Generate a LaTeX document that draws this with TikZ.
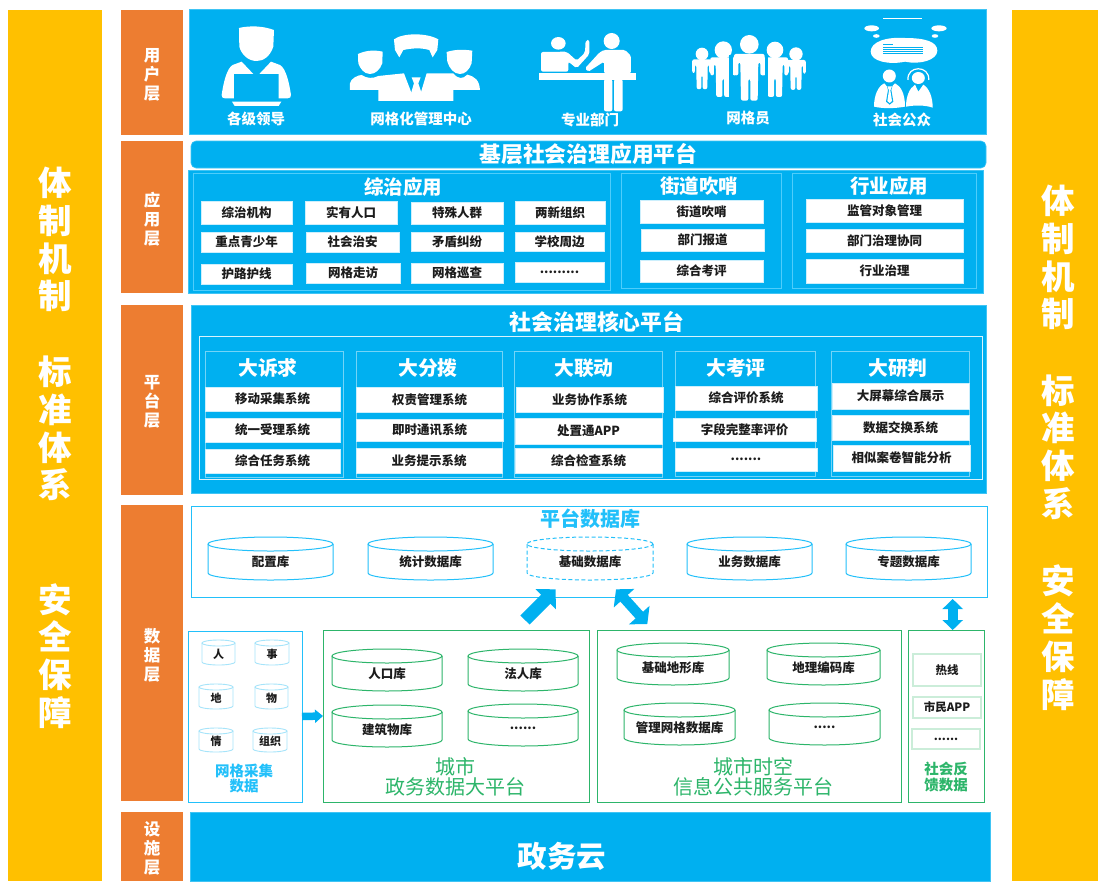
\documentclass[tikz,border=0pt]{standalone}
\usepackage{fontspec}
\setmainfont{Noto Sans CJK SC}
\usetikzlibrary{arrows.meta}
\definecolor{cyb}{HTML}{00B0F0}
\definecolor{org}{HTML}{ED7D31}
\definecolor{yel}{HTML}{FFC000}
\definecolor{lbl}{HTML}{22C0FA}
\definecolor{pale}{HTML}{A6E4FA}
\definecolor{grn}{HTML}{2DB56A}
\definecolor{pgrn}{HTML}{CBEDD9}
\definecolor{ink}{HTML}{1C1C1C}
\newcommand{\fz}[1]{\fontsize{#1}{#1}\selectfont}
\tikzset{
  every node/.style={inner sep=0pt,outer sep=0pt},
  sidetext/.style={text=white,align=center,font=\fontsize{33.5}{37.8}\selectfont\bfseries},
  layer/.style={fill=org},
  layertext/.style={text=white,align=center,yshift=-2.2pt,font=\fontsize{16.5}{19}\selectfont\bfseries},
  panel/.style={fill=cyb,draw=cyb!75!white,line width=.6pt},
  thinbox/.style={draw=lbl!80!white,line width=.7pt},
  paleline/.style={draw=white!85!cyb,line width=.9pt},
  subbox/.style={draw=white!45!cyb,line width=.8pt},
  whitebox/.style={fill=white,draw=white!80!cyb,line width=.5pt,text=ink,font=\fz{12.5}\bfseries},
  bluetitle/.style={text=white,font=\fz{19.5}\bfseries},
  boldtitle/.style={text=white,font=\fz{21.8}\bfseries},
  heavytitle/.style={text=white,font=\fz{19.8}\bfseries},
  iconlabel/.style={text=white,font=\fz{14.5}\bfseries},
  cylblue/.style={draw=lbl,line width=1pt},
  cyldash/.style={draw=lbl,line width=1pt,dash pattern=on 4pt off 2.5pt},
  cylpale/.style={draw=pale,line width=.9pt},
  cylgreen/.style={draw=grn,line width=1pt},
  cyltext/.style={text=ink,font=\fz{12.5}\bfseries},
  smalltext/.style={text=ink,font=\fz{11}\bfseries},
  greenframe/.style={draw=grn,line width=1pt},
  blueframe/.style={draw=lbl,line width=1pt},
  palegreen/.style={draw=pgrn,line width=1.2pt,text=ink,font=\fz{11.5}\bfseries},
  greentitle/.style={text=grn,align=center,font=\fontsize{20}{20.5}\selectfont},
  greenlabel/.style={text=grn,align=center,font=\fontsize{14.5}{16}\selectfont\bfseries},
  bluelabel/.style={text=lbl,align=center,font=\fontsize{14.5}{15.5}\selectfont\bfseries},
  bigarrow/.style={draw=cyb,color=cyb},
}
% a rectangle node by its corners
\newcommand{\bx}[7][]{%
  \pgfmathsetmacro\bw{#5-#3}\pgfmathsetmacro\bh{#6-#4}%
  \node[#1,minimum width=\bw pt,minimum height=\bh pt,anchor=north west] (#2) at (#3,#4) {#7};}
% a drum by its bounding corners
\newcommand{\cyl}[9][]{%
  % #1 style #2 name #3 x0 #4 y0 #5 x1 #6 y1 #7 ry #8 text style #9 text
  \pgfmathsetmacro\cx{(#3+#5)/2}\pgfmathsetmacro\rx{(#5-#3)/2}%
  \pgfmathsetmacro\yt{#4+#7}\pgfmathsetmacro\yb{#6-#7}\pgfmathsetmacro\ym{(#4+#6)/2+#7/2}%
  \draw[#1] (\cx,\yt) ellipse [x radius=\rx pt,y radius=#7 pt];
  \draw[#1] (#3,\yt) -- (#3,\yb) arc [start angle=180,end angle=360,x radius=\rx pt,y radius=#7 pt] -- (#5,\yt);
  \node[#8] (#2) at (\cx,\ym) {#9};}
% a standing figure, in thirds of a pixel
\newcommand{\standing}[5]{%
  \fill[white] (#1,#4) circle [radius=#5*0.3333pt];
  \pgfmathsetmacro\sc{#3*0.3333}%
  \begin{scope}[shift={(#1,#2)},x=\sc pt,y=-\sc pt]
    \fill[white,rounded corners=2pt] (-46,64) -- (-46,0) -- (46,0) -- (46,64) -- (33,64) -- (33,25) -- (27,25) -- (25,140) -- (3,140) -- (3,75) -- (-3,75) -- (-3,140) -- (-25,140) -- (-27,25) -- (-33,25) -- (-33,64) -- cycle;
  \end{scope}}
\begin{document}
\begin{tikzpicture}[x=1pt,y=-1pt]
\useasboundingbox (0,0) rectangle (1102,881);
\fill[white] (0,0) rectangle (1102,881);

% side columns
\fill[yel] (8,10) rectangle (102,881);
\fill[yel] (1012,10) rectangle (1098,881);
\node[sidetext] (la) at (55,239.5) {体\\制\\机\\制};
\node[sidetext] (lb) at (55,428.5) {标\\准\\体\\系};
\node[sidetext] (lc) at (55,656) {安\\全\\保\\障};
\node[sidetext] (ra) at (1058,257.5) {体\\制\\机\\制};
\node[sidetext] (rb) at (1058,447) {标\\准\\体\\系};
\node[sidetext] (rc) at (1058,637.5) {安\\全\\保\\障};

% layers
\bx[layer]{l1}{121}{10}{183}{135}{}
\bx[layer]{l2}{121}{141}{183}{293}{}
\bx[layer]{l3}{121}{305}{183}{495}{}
\bx[layer]{l4}{121}{505}{183}{801}{}
\bx[layer]{l5}{121}{812}{183}{881}{}
\node[layertext] (t1) at (l1) {用\\户\\层};
\node[layertext] (t2) at (l2) {应\\用\\层};
\node[layertext] (t3) at (l3) {平\\台\\层};
\node[layertext] (t4) at (l4) {数\\据\\层};
\node[layertext] (t5) at (l5) {设\\施\\层};

% user layer
\bx[panel]{users}{189}{9}{986}{134}{}
\node[iconlabel] (u1) at (256,118.5) {各级领导};
\node[iconlabel] (u2) at (421,118.5) {网格化管理中心};
\node[iconlabel] (u3) at (590,119.5) {专业部门};
\node[iconlabel] (u4) at (748,118.5) {网格员};
\node[iconlabel] (u5) at (902,120) {社会公众};

% icon 1 and icon 2
\begin{scope}[shift={(110,0)},x=.3333pt,y=-.3333pt]
  \fill[white] (387,84) .. controls (420,76) and (460,78) .. (492,90) -- (490,140) .. controls (480,170) and (460,183) .. (440,183) .. controls (415,183) and (395,165) .. (388,140) -- cycle;
  \fill[white] (335,285) .. controls (340,250) and (350,205) .. (368,195) -- (395,185) -- (430,222) -- (372,222) -- (372,295) -- (345,295) .. controls (338,295) and (335,292) .. (335,285) -- cycle;
  \fill[white] (543,285) .. controls (538,250) and (528,205) .. (510,195) -- (483,185) -- (448,222) -- (506,222) -- (506,295) -- (533,295) .. controls (540,295) and (543,292) .. (543,285) -- cycle;
  \fill[white] (366,305) -- (514,305) -- (506,318) -- (374,318) -- cycle;
  % icon 2
  \fill[white] (852,118) .. controls (880,98) and (950,98) .. (985,118) -- (982,150) -- (968,172) -- (958,150) .. controls (930,142) and (905,145) .. (880,150) -- (868,172) -- (855,150) -- cycle;
  \fill[white] (744,162) .. controls (770,150) and (795,150) .. (818,155) -- (817,190) .. controls (810,210) and (795,222) .. (780,222) .. controls (762,222) and (750,205) .. (745,190) -- cycle;
  \fill[white] (1010,156) .. controls (1035,148) and (1060,148) .. (1087,152) -- (1085,190) .. controls (1078,210) and (1065,222) .. (1050,222) .. controls (1032,222) and (1018,205) .. (1012,185) -- cycle;
  \fill[white] (720,270) -- (720,250) .. controls (722,235) and (745,225) .. (755,225) .. controls (770,236) and (790,236) .. (805,228) -- (882,220) -- (905,280) -- (932,280) -- (950,220) -- (1030,220) .. controls (1045,238) and (1058,238) .. (1072,224) .. controls (1095,230) and (1108,240) .. (1110,270) -- (1030,270) -- (1030,303) -- (805,303) -- (805,270) -- cycle;
  \fill[white] (905,232) -- (932,232) -- (925,250) -- (935,280) -- (918,290) -- (903,280) -- (912,250) -- cycle;
\end{scope}

% icon 3
\begin{scope}[shift={(530,20)},x=.3333pt,y=-.3333pt]
  \fill[white] (85,70) ellipse [x radius=7.3pt,y radius=6.3pt];
  \fill[white,rounded corners=2pt] (33,155) -- (33,96) -- (110,95) -- (140,122) -- (165,98) -- (167,60) -- (178,60) -- (178,103) -- (140,145) -- (115,125) -- (115,155) -- cycle;
  \fill[white] (27,160) rectangle (317,180);
  \fill[white] (245,63) circle [radius=8pt];
  \fill[white,rounded corners=1.5pt] (165,145) -- (208,98) -- (222,90) -- (285,90) -- (303,108) -- (303,160) -- (222,160) -- (222,125) -- (175,155) -- cycle;
  \fill[white,rounded corners=2pt] (222,178) -- (247,178) -- (247,274) -- (222,274) -- cycle;
  \fill[white,rounded corners=2pt] (252,178) -- (278,178) -- (278,274) -- (252,274) -- cycle;
\end{scope}

% icon 4
\begin{scope}[shift={(600,0)},x=.3333pt,y=-.3333pt]
  \standing{306}{178}{.64}{162}{19}
  \standing{588}{180}{.64}{162}{20}
  \standing{370}{172}{.85}{150}{26}
  \standing{525}{172}{.85}{150}{25}
  \fill[cyb] (388,165) rectangle (400,300);
  \fill[cyb] (496,165) rectangle (505,300);
  \standing{448}{162}{1}{133}{28}
\end{scope}

% icon 5
\begin{scope}[shift={(850,10)},x=.3333pt,y=-.3333pt]
  \draw[white,line width=1.1pt] (100,25) -- (215,25);
  \fill[white] (65,55) ellipse [x radius=7.3pt,y radius=3pt];
  \fill[white] (79,78) ellipse [x radius=3.3pt,y radius=1.8pt];
  \fill[white] (267,55) ellipse [x radius=7.6pt,y radius=3pt];
  \fill[white] (255,78) ellipse [x radius=3.3pt,y radius=1.8pt];
  \fill[white] (62,125) .. controls (62,95) and (110,80) .. (165,84) .. controls (225,84) and (262,95) .. (262,122) .. controls (262,150) and (210,165) .. (165,155) .. controls (120,165) and (62,155) .. (62,125) -- cycle;
  \draw[cyb,line width=.7pt] (100,104) -- (130,104) (100,112) -- (218,112) (100,118) -- (218,118) (100,124) -- (218,124) (100,130) -- (218,130);
  \fill[white] (118,198) circle [radius=6.5pt];
  \fill[white] (72,290) .. controls (72,255) and (85,228) .. (103,220) -- (118,238) -- (135,220) .. controls (152,228) and (165,250) .. (165,290) .. controls (130,296) and (100,296) .. (72,290) -- cycle;
  \fill[cyb] (110,226) -- (128,226) -- (124,240) -- (130,275) -- (119,284) -- (108,275) -- (114,240) -- cycle;
  \fill[white] (112,229) -- (126,229) -- (121,241) -- (126,273) -- (119,279) -- (112,273) -- (117,241) -- cycle;
  \fill[white] (205,204) ellipse [x radius=6.5pt,y radius=6pt];
  \draw[white,line width=1.2pt] (174,210) .. controls (170,165) and (240,165) .. (236,210);
  \fill[white] (168,290) .. controls (168,260) and (178,235) .. (195,224) -- (205,245) -- (220,224) .. controls (238,235) and (248,262) .. (248,293) .. controls (225,285) and (195,285) .. (168,290) -- cycle;
\end{scope}

% application layer
\bx[panel,rounded corners=5pt,boldtitle]{apptitle}{191}{141}{986}{168}{基层社会治理应用平台}
\bx[panel]{apps}{188}{170}{983}{293}{}
\bx[thinbox]{zz}{193}{173}{610}{290}{}
\bx[thinbox]{jd}{621}{173}{781}{288}{}
\bx[thinbox]{hy}{792}{173}{976}{288}{}
\node[bluetitle] (zzt) at (403,187) {综治应用};
\node[bluetitle] (jdt) at (699,186) {街道吹哨};
\node[bluetitle] (hyt) at (889,186) {行业应用};

\bx[whitebox]{a11}{201}{201}{292}{224}{综治机构}
\bx[whitebox]{a12}{305}{201}{397}{224}{实有人口}
\bx[whitebox]{a13}{411}{202}{503}{224}{特殊人群}
\bx[whitebox]{a14}{515}{201}{605}{224}{两新组织}
\bx[whitebox]{a21}{201}{232}{292}{252}{重点青少年}
\bx[whitebox]{a22}{306}{232}{399}{252}{社会治安}
\bx[whitebox]{a23}{411}{232}{503}{251}{矛盾纠纷}
\bx[whitebox]{a24}{515}{232}{604}{251}{学校周边}
\bx[whitebox]{a31}{201}{264}{292}{284}{护路护线}
\bx[whitebox]{a32}{306}{263}{400}{283}{网格走访}
\bx[whitebox]{a33}{411}{263}{503}{283}{网格巡查}
\bx[whitebox]{a34}{515}{262}{604}{282}{.........}

\bx[whitebox]{j1}{640}{200}{763}{223}{街道吹哨}
\bx[whitebox]{j2}{641}{229}{764}{251}{部门报道}
\bx[whitebox]{j3}{640}{260}{763}{282}{综合考评}
\bx[whitebox]{h1}{806}{199}{963}{222}{监管对象管理}
\bx[whitebox]{h2}{806}{229}{963}{252}{部门治理协同}
\bx[whitebox]{h3}{806}{259}{963}{283}{行业治理}

% platform layer
\bx[panel]{plat}{191}{305}{986}{493}{}
\node[boldtitle] (platt) at (597,322) {社会治理核心平台};
\bx[paleline]{platin}{199}{336}{982}{479}{}
\bx[subbox]{c1}{205}{351}{343}{477}{}
\bx[subbox]{c2}{356}{351}{502}{477}{}
\bx[subbox]{c3}{514}{351}{662}{477}{}
\bx[subbox]{c4}{675}{351}{815}{476}{}
\bx[subbox]{c5}{831}{351}{969}{476}{}
\node[heavytitle] (c1t) at (268,368) {大诉求};
\node[heavytitle] (c2t) at (428,368) {大分拨};
\node[heavytitle] (c3t) at (584,368) {大联动};
\node[heavytitle] (c4t) at (736,368) {大考评};
\node[heavytitle] (c5t) at (898,368) {大研判};

\bx[whitebox]{p11}{205}{387}{340}{411}{移动采集系统}
\bx[whitebox]{p12}{205}{418}{340}{442}{统一受理系统}
\bx[whitebox]{p13}{205}{449}{340}{473}{综合任务系统}
\bx[whitebox]{p21}{356}{387}{503}{412}{权责管理系统}
\bx[whitebox]{p22}{356}{419}{503}{441}{即时通讯系统}
\bx[whitebox]{p23}{356}{448}{502}{473}{业务提示系统}
\bx[whitebox]{p31}{516}{387}{663}{412}{业务协作系统}
\bx[whitebox]{p32}{515}{418}{662}{444}{处置通APP}
\bx[whitebox]{p33}{515}{448}{662}{473}{综合检查系统}
\bx[whitebox]{p41}{675}{386}{817}{410}{综合评价系统}
\bx[whitebox]{p42}{673}{418}{816}{441}{字段完整率评价}
\bx[whitebox]{p43}{675}{448}{817}{471}{.......}
\bx[whitebox]{p51}{832}{383}{969}{409}{大屏幕综合展示}
\bx[whitebox]{p52}{832}{415}{969}{440}{数据交换系统}
\bx[whitebox]{p53}{833}{445}{970}{471}{相似案卷智能分析}

% data layer: platform database
\bx[blueframe]{db}{191}{506}{987}{597}{}
\node[text=lbl,font=\fz{20}\bfseries] (dbt) at (590,519) {平台数据库};
\cyl[cylblue]{d1}{208}{537}{333}{580}{7}{cyltext}{配置库}
\cyl[cylblue]{d2}{368}{537}{493}{580}{7}{cyltext}{统计数据库}
\cyl[cyldash]{d3}{527}{537}{653}{580}{7}{cyltext}{基础数据库}
\cyl[cylblue]{d4}{687}{537}{812}{580}{7}{cyltext}{业务数据库}
\cyl[cylblue]{d5}{846}{537}{971}{580}{7}{cyltext}{专题数据库}

% grid collection
\bx[blueframe]{cj}{188}{631}{302}{802}{}
\cyl[cylpale]{g1}{202}{640}{235}{665}{3}{smalltext}{人}
\cyl[cylpale]{g2}{255}{640}{289}{665}{3}{smalltext}{事}
\cyl[cylpale]{g3}{199}{684}{233}{709}{3}{smalltext}{地}
\cyl[cylpale]{g4}{255}{684}{288}{709}{3}{smalltext}{物}
\cyl[cylpale]{g5}{199}{728}{233}{752}{3}{smalltext}{情}
\cyl[cylpale]{g6}{253}{728}{287}{752}{3}{smalltext}{组织}
\node[bluelabel] (cjt) at (244,778.5) {网格采集\\数据};

% government data
\bx[greenframe]{zw}{323}{630}{589}{802}{}
\cyl[cylgreen]{z1}{332}{649}{442}{691}{7}{cyltext}{人口库}
\cyl[cylgreen]{z2}{468}{649}{578}{691}{7}{cyltext}{法人库}
\cyl[cylgreen]{z3}{332}{705}{442}{747}{7}{cyltext}{建筑物库}
\cyl[cylgreen]{z4}{468}{704}{578}{746}{7}{cyltext}{......}
\node[greentitle] (zwt) at (455,777) {城市\\政务数据大平台};

% spatial information
\bx[greenframe]{sk}{597}{630}{901}{802}{}
\cyl[cylgreen]{s1}{617}{643}{729}{685}{7}{cyltext}{基础地形库}
\cyl[cylgreen]{s2}{767}{643}{880}{685}{7}{cyltext}{地理编码库}
\cyl[cylgreen]{s3}{624}{703}{735}{745}{7}{cyltext}{管理网格数据库}
\cyl[cylgreen]{s4}{769}{703}{880}{745}{7}{cyltext}{.....}
\node[greentitle] (skt) at (753,777) {城市时空\\信息公共服务平台};

% feedback
\bx[greenframe]{fk}{908}{630}{984}{802}{}
\bx[palegreen]{f1}{913}{654}{981}{686}{热线}
\bx[palegreen]{f2}{913}{697}{981}{718}{市民APP}
\bx[palegreen]{f3}{912}{729}{980}{749}{......}
\node[greenlabel] (fkt) at (946,777) {社会反\\馈数据};

% arrows
\coordinate (aa1) at (525,620);
\coordinate (aa2) at (555.6,589.3);
\coordinate (ab1) at (616,589.3);
\coordinate (ab2) at (647.3,624);
\coordinate (ac1) at (952.7,599);
\coordinate (ac2) at (952.7,630);
\draw[bigarrow,line width=7.5pt,-{Triangle[length=8pt,width=13pt]}] (cj.east) -- (zw.west);
\draw[bigarrow,line width=13pt,-{Triangle[length=14pt,width=28pt]}] (aa1) -- (aa2);
\draw[bigarrow,line width=10pt,{Triangle[length=12pt,width=27pt]}-{Triangle[length=12pt,width=27pt]}] (ab1) -- (ab2);
\draw[bigarrow,line width=10pt,{Triangle[length=10pt,width=20pt]}-{Triangle[length=10pt,width=20pt]}] (ac1) -- (ac2);

% infrastructure
\bx[panel]{cloud}{190}{812}{990}{881}{}
\node[text=white,font=\fz{29.5}\bfseries] (cloudt) at (562,856) {政务云};
\end{tikzpicture}
\end{document}
